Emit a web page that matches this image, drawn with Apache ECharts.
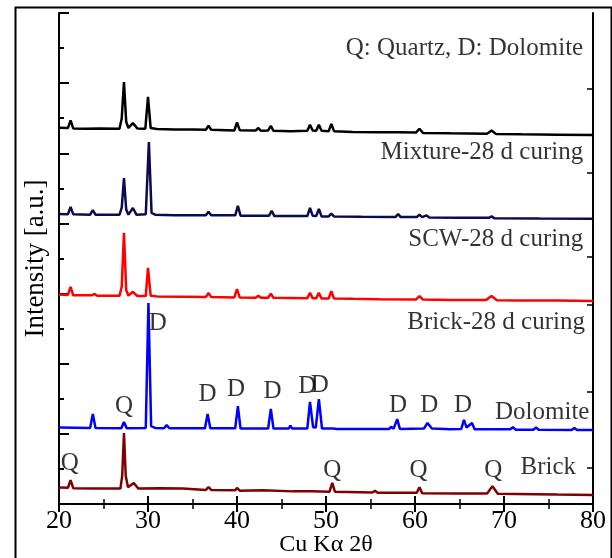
<!DOCTYPE html>
<html>
<head>
<meta charset="utf-8">
<script src="https://cdn.jsdelivr.net/npm/echarts@6/dist/echarts.min.js"></script>
<style>
  html, body { margin: 0; padding: 0; background: #fff; }
  #chart { width: 612px; height: 558px; }
</style>
</head>
<body>
<div id="chart"></div>
<script>
// 2θ (deg), intensity (a.u., offset traces)
var mixture = [[20,107.3],[21.0,107.2],[21.3,109.4],[21.6,107.1],[23.0,107.0],[24.5,107.1],[26.8,107.0],[27.05,110],[27.3,120.3],[27.55,109],[27.8,107.2],[28.3,108.6],[28.8,107.1],[29.7,107.0],[30.0,116.1],[30.3,107.2],[31,106.9],[33,106.8],[35,106.8],[36.5,106.7],[36.8,107.9],[37.1,106.7],[39.7,106.5],[40.0,108.8],[40.3,106.6],[42.1,106.5],[42.4,107.2],[42.7,106.4],[43.5,106.5],[43.8,107.8],[44.1,106.4],[46,106.3],[47.9,106.4],[48.2,108.1],[48.5,106.5],[48.9,106.4],[49.2,108.1],[49.5,106.4],[50.3,106.3],[50.6,108.4],[50.9,106.3],[53,106.1],[56,106.0],[58,106.0],[60.1,105.9],[60.5,107.0],[60.9,105.8],[64,105.7],[68.1,105.6],[68.6,106.5],[69.1,105.5],[72,105.4],[76,105.3],[80,105.2]];
var scw = [[20,82.7],[21.0,82.6],[21.3,84.7],[21.6,82.6],[23.5,82.5],[23.8,83.8],[24.1,82.5],[26.8,82.5],[27.05,84.5],[27.3,92.9],[27.55,84],[27.8,82.5],[28.3,84.4],[28.7,82.5],[29.75,82.6],[30.1,103.2],[30.4,83],[30.8,82.5],[33,82.3],[36.5,82.3],[36.8,83.3],[37.1,82.3],[39.8,82.3],[40.1,85.0],[40.4,82.2],[43.6,82.2],[43.9,83.6],[44.2,82.1],[47.9,82.1],[48.2,84.4],[48.5,82.2],[48.9,82.1],[49.2,84.1],[49.5,82.0],[50.3,82.0],[50.6,82.8],[50.9,82.0],[54,81.9],[57.8,81.8],[58.1,82.7],[58.4,81.8],[60.2,81.8],[60.5,82.5],[60.8,81.8],[61.3,82.3],[61.6,81.7],[65,81.6],[68.3,81.6],[68.6,82.0],[68.9,81.5],[74,81.4],[80,81.3]];
var brickCured = [[20,59.7],[21.0,59.6],[21.3,61.9],[21.6,59.5],[23.7,59.5],[24.0,59.9],[24.3,59.4],[26.8,59.4],[27.05,62],[27.3,77.3],[27.55,61],[27.8,59.4],[28.3,60.5],[28.8,59.3],[29.75,59.3],[30.0,67.3],[30.3,59.4],[31,59.2],[34,59.1],[36.5,59.0],[36.8,60.2],[37.1,59.0],[39.7,58.9],[40.0,61.3],[40.3,58.9],[42.1,58.8],[42.4,59.4],[42.7,58.8],[43.5,58.8],[43.8,60.0],[44.1,58.8],[47.9,58.7],[48.2,60.2],[48.5,58.7],[48.9,58.7],[49.2,60.2],[49.5,58.6],[50.3,58.6],[50.6,60.7],[50.9,58.6],[53,58.5],[56,58.4],[60.1,58.3],[60.5,59.3],[60.9,58.3],[64,58.2],[68.0,58.2],[68.6,59.3],[69.2,58.1],[72,58.0],[76,58.0],[80,57.9]];
var dolomite = [[20,21.8],[23.5,21.7],[23.8,25.7],[24.1,21.7],[27.0,21.6],[27.3,23.4],[27.6,21.6],[29.75,21.7],[30.05,57.3],[30.35,22.2],[30.8,21.7],[31.8,21.6],[32.1,22.5],[32.4,21.6],[36.4,21.6],[36.7,25.7],[37.0,21.6],[39.8,21.6],[40.1,27.9],[40.4,21.5],[43.5,21.5],[43.8,27.1],[44.1,21.5],[45.8,21.5],[46.0,22.3],[46.2,21.5],[47.9,21.5],[48.2,29.1],[48.55,21.9],[48.85,21.8],[49.2,29.9],[49.55,21.5],[50.8,21.5],[51.0,22.0],[51.2,21.4],[57.1,21.4],[57.3,22.0],[57.6,21.5],[58.0,24.2],[58.3,21.4],[61.0,21.5],[61.4,23.1],[61.9,21.5],[63.4,21.4],[63.6,21.9],[63.8,21.3],[65.2,21.4],[65.5,24.0],[65.8,21.8],[66.4,23.1],[66.7,21.3],[70.7,21.3],[71.0,21.9],[71.3,21.2],[73.3,21.2],[73.6,21.8],[73.9,21.2],[77.6,21.1],[77.9,21.7],[78.2,21.1],[80,21.1]];
var brick = [[20,4.7],[21.0,4.6],[21.3,6.8],[21.6,4.5],[24,4.4],[26.9,4.4],[27.1,8],[27.3,20.2],[27.5,8],[27.75,4.8],[28.4,6.0],[28.9,4.4],[31.4,4.5],[33.9,4.4],[36.5,4.0],[36.8,4.8],[37.1,4.0],[39.8,3.9],[40.0,4.6],[40.3,3.8],[42.9,3.9],[46.3,3.6],[48.4,3.6],[50.4,3.5],[50.7,6.0],[51.0,3.5],[55.2,3.3],[55.5,3.8],[55.8,3.2],[60.2,3.2],[60.5,4.8],[60.8,3.1],[64.5,3.0],[68.1,3.0],[68.7,5.1],[69.3,2.9],[73.5,2.8],[76,2.7],[80,2.6]];

// peak letters: text, 2θ, intensity
var peakMarks = [['D',31.1,51.6],['Q',27.3,27.7],['D',36.7,31.1],['D',39.9,32.8],['D',44.0,32.2],['D',47.9,33.4],['D',49.3,33.9],['D',58.1,28.2],['D',61.6,28.2],['D',65.4,28.2],['Q',21.2,11.7],['Q',50.7,9.7],['Q',60.4,9.7],['Q',68.8,9.7]];
// trace names, right-aligned: text, 2θ (right end), intensity
var traceTags = [['Q: Quartz, D: Dolomite',78.9,130.0],['Mixture-28 d curing',78.9,100.1],['SCW-28 d curing',78.9,75.3],['Brick-28 d curing',79.1,51.9],['Dolomite',79.6,26.2],['Brick',78.1,10.3]];

var xTicks = [20, 30, 40, 50, 60, 70, 80];
var rightTicks = [118.3, 94.4, 70.4, 56.7, 31.9, 10.3];

var serif = '"Liberation Serif", "DejaVu Serif", serif';

var myChart = echarts.init(document.getElementById('chart'));

function trace(name, data, color) {
  return {
    name: name, type: 'line', data: data, symbol: 'none',
    xAxisIndex: 0, yAxisIndex: 0,
    lineStyle: { color: color, width: 2.5 }, z: 3
  };
}

var option = {
  animation: false,
  backgroundColor: '#fff',
  grid: { left: 59, right: 19, top: 13, bottom: 54, outerBoundsMode: 'none' },
  graphic: [{
    type: 'rect', left: 13, top: 5, z: 100, silent: true,
    shape: { width: 596, height: 560 },
    style: { fill: 'none', stroke: '#000', lineWidth: 2 }
  }],
  xAxis: [{
    type: 'value', min: 20, max: 80, interval: 10, position: 'bottom',
    name: 'Cu K\u03b1 2\u03b8', nameLocation: 'middle', nameGap: 29, nameMoveOverlap: false,
    nameTextStyle: { fontFamily: serif, fontSize: 24, color: '#000' },
    axisLine: { lineStyle: { color: '#000', width: 2 } },
    axisTick: { inside: true, length: 8, lineStyle: { color: '#000', width: 2 } },
    minorTick: { show: true, splitNumber: 2, length: 5, lineStyle: { color: '#000', width: 1.5 } },
    axisLabel: { fontFamily: serif, fontSize: 26, color: '#000', margin: 4,
      formatter: function (v) { return xTicks.indexOf(v) >= 0 ? String(v) : ''; } },
    splitLine: { show: false }
  }, {
    type: 'value', min: 20, max: 80, interval: 10, position: 'top',
    axisLine: { lineStyle: { color: '#000', width: 2 } },
    axisTick: { inside: true, length: 8, lineStyle: { color: '#000', width: 2 } },
    minorTick: { show: true, splitNumber: 2, length: 5, lineStyle: { color: '#000', width: 1.5 } },
    axisLabel: { show: false }, splitLine: { show: false }
  }],
  yAxis: [{
    type: 'value', min: 0, max: 140, interval: 20, position: 'left',
    name: 'Intensity [a.u.]', nameLocation: 'middle', nameGap: 10,
    nameTextStyle: { fontFamily: serif, fontSize: 27, color: '#000' },
    axisLine: { show: true, lineStyle: { color: '#000', width: 2 } },
    axisTick: { show: true, inside: true, length: 10, lineStyle: { color: '#000', width: 2 } },
    minorTick: { show: true, splitNumber: 2, length: 5, lineStyle: { color: '#000', width: 2 } },
    axisLabel: { show: false }, splitLine: { show: false }
  }, {
    type: 'value', min: 0, max: 140, position: 'right',
    axisLine: { show: true, lineStyle: { color: '#000', width: 2 } },
    axisTick: { show: true, inside: true, length: 6, customValues: rightTicks,
      lineStyle: { color: '#000', width: 1.5 } },
    axisLabel: { show: false }, splitLine: { show: false }
  }],
  series: [
    trace('Mixture-28 d curing', mixture, '#000000'),
    trace('SCW-28 d curing', scw, '#0b0b4f'),
    trace('Brick-28 d curing', brickCured, '#ff0000'),
    trace('Dolomite', dolomite, '#0000ff'),
    trace('Brick', brick, '#7f0000'),
    {
      type: 'scatter', symbolSize: 0, z: 5, silent: true,
      data: peakMarks.map(function (m) { return { name: m[0], value: [m[1], m[2]] }; }),
      label: { show: true, position: 'inside', formatter: '{b}',
        fontFamily: serif, fontSize: 25, color: '#000' }
    },
    {
      type: 'scatter', symbolSize: 0, z: 5, silent: true,
      data: traceTags.map(function (m) { return { name: m[0], value: [m[1], m[2]] }; }),
      label: { show: true, position: 'left', distance: 0, formatter: '{b}',
        fontFamily: serif, fontSize: 25, color: '#000' }
    }
  ]
};

myChart.setOption(option);
window.addEventListener('resize', function () { myChart.resize(); });
</script>
</body>
</html>
